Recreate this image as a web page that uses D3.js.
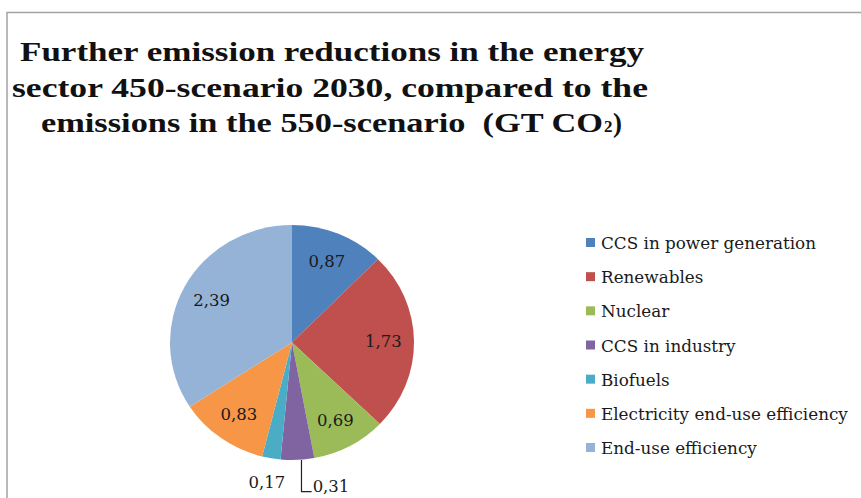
<!DOCTYPE html>
<html>
<head>
<meta charset="utf-8">
<script src="https://cdn.jsdelivr.net/npm/d3@7"></script>
<style>
  html, body { margin: 0; padding: 0; background: #ffffff; }
  svg { display: block; }
</style>
</head>
<body>
<script>
// ---- data ----
const categories = [
  "CCS in power generation",
  "Renewables",
  "Nuclear",
  "CCS in industry",
  "Biofuels",
  "Electricity end-use efficiency",
  "End-use efficiency"
];
const values = [0.87, 1.73, 0.69, 0.31, 0.17, 0.83, 2.39];
const valueLabels = ["0,87", "1,73", "0,69", "0,31", "0,17", "0,83", "2,39"];
const colors = ["#4F81BD", "#C0504D", "#9BBB59", "#8064A2", "#4BACC6", "#F79646", "#95B3D7"];
const titleLines = [
  "Further emission reductions in the energy",
  "sector 450-scenario 2030, compared to the",
  "emissions in the 550-scenario\u00a0\u00a0(GT CO"
];
const titleSub = "2";
const titleEnd = ")";

// ---- layout ----
const W = 861, H = 498;
const cx = 292, cy = 342.5, ry = 117.5, rx = 122;
const sx = rx / ry;

const svg = d3.select("body").append("svg").attr("width", W).attr("height", H);
svg.append("rect").attr("width", W).attr("height", H).attr("fill", "#ffffff");

// frame
svg.append("path")
  .attr("d", `M7,${H} V12.5 H${W}`)
  .attr("fill", "none").attr("stroke", "#a3a3a3").attr("stroke-width", 1.5);

// title
const titleFont = "'Liberation Serif', serif";
const titleLeft = [20, 12, 41];
const titleWidths = [624, 636, 562];
const titleY = [61, 97, 132];
titleLines.forEach((t, i) => {
  svg.append("text")
    .attr("x", titleLeft[i]).attr("y", titleY[i])
    .attr("font-family", titleFont)
    .attr("font-weight", "bold")
    .attr("font-size", 27)
    .attr("fill", "#111")
    .attr("textLength", titleWidths[i])
    .attr("lengthAdjust", "spacingAndGlyphs")
    .text(t);
});
const subX = titleLeft[2] + titleWidths[2] + 1;
svg.append("text")
  .attr("x", subX).attr("y", titleY[2])
  .attr("font-family", titleFont).attr("font-weight", "bold")
  .attr("font-size", 17).attr("fill", "#111")
  .text(titleSub);
svg.append("text")
  .attr("x", subX + 9).attr("y", titleY[2])
  .attr("font-family", titleFont).attr("font-weight", "bold")
  .attr("font-size", 27).attr("fill", "#111")
  .text(titleEnd);

// pie
const pie = d3.pie().sort(null).value(d => d)
  .startAngle(0).endAngle(2 * Math.PI);
const arcs = pie(values);
const arc = d3.arc().innerRadius(0).outerRadius(ry);

const g = svg.append("g").attr("transform", `translate(${cx},${cy}) scale(${sx},1)`);
g.selectAll("path").data(arcs).join("path")
  .attr("d", arc)
  .attr("fill", (d, i) => colors[i]);

// labels
function pt(angle, r) {
  return [cx + Math.sin(angle) * r * sx, cy - Math.cos(angle) * r];
}
const labelFont = "'DejaVu Serif', serif";
arcs.forEach((d, i) => {
  const mid = (d.startAngle + d.endAngle) / 2;
  const small = d.value < 0.5;
  if (!small) {
    const [x, y] = pt(mid, ry * 0.75);
    svg.append("text").attr("x", x).attr("y", y)
      .attr("text-anchor", "middle").attr("dominant-baseline", "central")
      .attr("font-family", labelFont).attr("font-size", 16.5).attr("fill", "#1a1a1a")
      .text(valueLabels[i]);
  } else {
    let [x, y] = pt(mid, ry * 1.21);
    if (d.value > 0.2) {
      const [ex, ey] = pt(mid, ry);
      const tx = x + 14;
      svg.append("path")
        .attr("d", `M${ex + 4},${ey} V${y + 7} H${tx - 1}`)
        .attr("fill", "none").attr("stroke", "#222").attr("stroke-width", 1.2);
      svg.append("text").attr("x", tx).attr("y", y + 2)
        .attr("dominant-baseline", "central")
        .attr("font-family", labelFont).attr("font-size", 16.5).attr("fill", "#1a1a1a")
        .text(valueLabels[i]);
    } else {
      svg.append("text").attr("x", x).attr("y", y)
        .attr("text-anchor", "middle").attr("dominant-baseline", "central")
        .attr("font-family", labelFont).attr("font-size", 16.5).attr("fill", "#1a1a1a")
        .text(valueLabels[i]);
    }
  }
});

// legend
const legY = d3.scalePoint().domain(categories).range([243, 448]);
const leg = svg.append("g");
categories.forEach((c, i) => {
  const y = legY(c);
  leg.append("rect").attr("x", 586).attr("y", y - 5).attr("width", 9).attr("height", 9)
    .attr("fill", colors[i]);
  leg.append("text").attr("x", 601).attr("y", y)
    .attr("dominant-baseline", "central")
    .attr("font-family", labelFont).attr("font-size", 16.8).attr("fill", "#1a1a1a")
    .text(c);
});
</script>
</body>
</html>
